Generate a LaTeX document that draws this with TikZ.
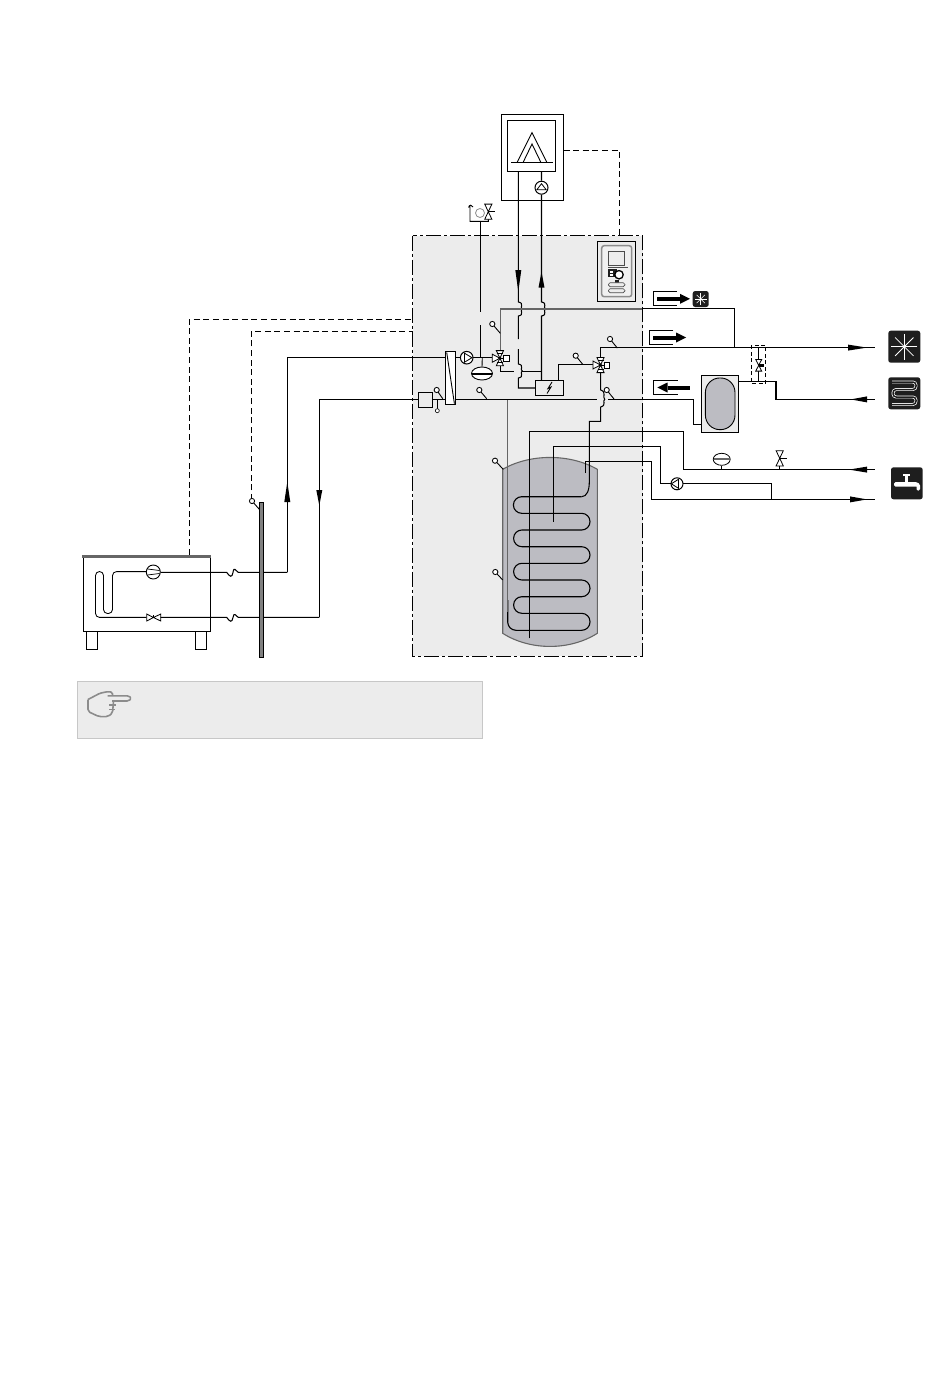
\documentclass[tikz,border=0pt]{standalone}
\usetikzlibrary{shapes.geometric,calc}
\definecolor{panelgray}{HTML}{ECECEC}
\definecolor{tankgray}{HTML}{BCBCC2}
\definecolor{iconblack}{HTML}{1E1E1E}
\definecolor{handgray}{HTML}{8C8C8C}
\definecolor{pipegray}{HTML}{666666}
\tikzset{
  pipe/.style={draw=black,line width=1.05pt,line join=miter},
  gpipe/.style={draw=pipegray,line width=1.2pt},
  signal/.style={draw=black,line width=0.9pt,dash pattern=on 6pt off 3.6pt},
  thin part/.style={draw=black,line width=0.9pt},
  symb/.style={draw=black,line width=0.8pt,fill=white},
  roundpart/.style={circle,draw=black,line width=1pt,fill=panelgray,inner sep=0pt},
  head/.style={fill=black,draw=none},
  signbox/.style={draw=black,line width=0.8pt},
  ico/.style={fill=iconblack,draw=none,rounded corners=2.5pt},
  icoline/.style={draw=white,line width=0.8pt},
}
\newcommand{\bmp}[2]{-- (#1,#2-7) .. controls (#1+6.5,#2-6) and (#1+1,#2-1) .. (#1+4,#2) .. controls (#1+1,#2+1) and (#1+6.5,#2+6) .. (#1,#2+7)}
\newcommand{\vvalve}[2]{\path[symb] (#1,#2) -- (#1-3.6,#2-7.6) -- (#1+3.6,#2-7.6) -- cycle; \path[symb] (#1,#2) -- (#1-3.6,#2+7.6) -- (#1+3.6,#2+7.6) -- cycle;}
\newcommand{\threeway}[2]{\draw[thin part] (#1,#2) -- (#1+5,#2);
  \path[symb] (#1+3.6,#2-3) rectangle (#1+9,#2+3.2);
  \vvalve{#1}{#2}
  \path[symb] (#1,#2) -- (#1-7.6,#2-4) -- (#1-7.6,#2+4) -- cycle;
  \fill[black] (#1,#2) circle[radius=1.7];
  \draw[line width=0.7pt] (#1-3,#2-4.6) -- (#1+3,#2-4.6) (#1-3,#2+4.6) -- (#1+3,#2+4.6);}
\newcommand{\sensor}[4]{\draw[thin part] (#1,#2) -- (#3,#4); \draw[draw=black,line width=0.85pt,fill=white] (#1,#2) circle[radius=2.6];}
\newcommand{\dnhead}[3]{\fill[head] (#1-3,#2) -- (#1+3,#2) -- (#1,#3) -- cycle;}
\newcommand{\hhead}[3]{\fill[head] (#1,#3-3) -- (#1,#3+3) -- (#2,#3) -- cycle;}
\begin{document}
\begin{tikzpicture}[x=1pt,y=-1pt]
\useasboundingbox[fill=white] (0,0) rectangle (950,1378);

% panel
\node[fill=panelgray,minimum width=229.6pt,minimum height=420.5pt,inner sep=0pt,anchor=north west] (panel) at (412.7,235.7) {};

% tank
\path[fill=tankgray,draw=pipegray,line width=1.1pt] (502.7,469.3) .. controls (530,453.5) and (570,453.5) .. (597.3,469.3) -- (597.3,633.3) .. controls (570,650.8) and (530,650.8) .. (502.7,633.3) -- cycle;

% expansion vessel
\node[draw=black,line width=0.9pt,fill=panelgray,inner sep=0pt,minimum width=37.4pt,minimum height=57pt] (vessel) at (720,403.8) {};
\node[draw=black,line width=0.9pt,fill=tankgray,rounded corners=14.5pt,inner sep=0pt,minimum width=29.6pt,minimum height=51.7pt] (vesselin) at (720.2,403.8) {};

% boiler
\node[draw=black,line width=1pt,fill=white,inner sep=0pt,minimum width=62pt,minimum height=86.5pt] (boiler) at (532.5,157.7) {};
\node[draw=black,line width=1pt,fill=white,inner sep=0pt,minimum width=48pt,minimum height=51pt] (burner) at (531.5,146) {};
\draw[thin part] (511,162.4) -- (552.7,162.4);
\draw[thin part] (517.3,162) -- (532,132.7) -- (546.7,162);
\draw[thin part] (523.3,162) -- (532,144) -- (540.7,162);

% signal lines
\draw[signal] (563.5,150.4) -- (619.5,150.4) -- (619.5,235.5);
\draw[signal] (189.3,555) -- (189.3,319.4) -- (412.7,319.4);
\draw[signal] (251,500) -- (251,331.4) -- (412.7,331.4);

% panel border
\draw[line width=0.9pt,dash pattern=on 15pt off 3pt on 3pt off 3pt] (412.7,235.7) rectangle (642.3,656.2);

% safety group
\node[circle,draw=handgray,line width=0.8pt,fill=white,inner sep=0pt,minimum size=9pt] (safecirc) at (480,213) {};
\draw[thin part] (468.5,207.5) .. controls (469,204.5) and (472.5,204.5) .. (473,207) (470,206) -- (470,221.3) -- (488.3,221.3) -- (488.3,216);
\vvalve{488.3}{211.7}
\draw[thin part] (488.3,211.7) -- (495,211.7);
\coordinate (safe) at (480.3,221.3);
\draw[pipe] (safe) -- (480.3,311.7) (480.3,325) -- (480.3,357.5);

% boiler pipes
\node[roundpart,fill=white,minimum size=13pt] (bpump) at (541.5,187.7) {};
\path[symb] (541.5,183.7) -- (536.8,189.8) -- (546.2,189.8) -- cycle;
\draw[pipe] (518.3,171.5) -- (518.3,302) \bmp{518.3}{309} -- (518.3,339) (518.3,349) -- (518.3,364) \bmp{518.3}{371} -- (518.3,388) -- (535.3,388);
\draw[pipe] (541.5,171.5) -- (bpump.north) (bpump.south) -- (541.5,302) \bmp{541.5}{309} -- (541.5,380.3);
\dnhead{518.3}{270}{291.7}
\dnhead{541.5}{287.7}{271.7}

% distribution pipes
\draw[gpipe] (500.3,350) -- (500.3,309) -- (642.3,309);
\draw[pipe] (642,308.6) -- (734.3,308.6) -- (734.3,347.6);
\draw[pipe] (600.7,357) -- (600.7,347.6) -- (875,347.6);
\draw[pipe] (500.3,366) -- (500.3,371.4) -- (514,371.4) (522,371.4) -- (541.5,371.4);
\hhead{848}{867}{347.6}

% heater
\node[draw=black,line width=1pt,fill=panelgray,inner sep=0pt,minimum width=28.4pt,minimum height=15pt] (heater) at (549.5,387.8) {};
\draw[line width=0.9pt] (552,382) -- (548,388.5) -- (551,387) -- (547,393.5);
\draw[pipe] (558.3,380.3) -- (558.3,364.7) -- (593,364.7);
\draw[pipe] (600.7,373) -- (600.7,390) .. controls (607,392) and (602,397) .. (604.7,399.3) .. controls (602,401) and (607,405) .. (600.7,407) -- (600.7,421.4) -- (589.3,421.4) -- (589.3,482) .. controls (589.3,490) and (587,496.7) .. (581.7,496.7);

% main pipes
\draw[pipe] (319.3,617.4) -- (319.3,399.4) -- (418.3,399.4);
\draw[pipe] (432.7,399.4) -- (445.7,399.4);
\draw[pipe] (455.3,399.4) -- (597,399.4) (608,399.4) -- (693.3,399.4) -- (693.3,424.4) -- (701.3,424.4);
\draw[pipe] (287.3,572.4) -- (287.3,357.4) -- (445.7,357.4);
\draw[pipe] (455.3,357.4) -- (460.4,357.4);
\draw[pipe] (473,357.4) -- (492,357.4);
\dnhead{287.3}{502}{482}
\dnhead{319.3}{490}{505.5}

% coil and tank pipes
\draw[line width=1.1pt,rounded corners=8.3pt] (581.7,496.7) -- (513.4,496.7) -- (513.4,513.3) -- (590,513.3) -- (590,530) -- (513.6,530) -- (513.6,546.7) -- (590,546.7) -- (590,563.3) -- (513.6,563.3) -- (513.6,580) -- (590,580) -- (590,596.7) -- (513.6,596.7) -- (513.6,613.3) -- (590,613.3) -- (590,630.3) -- (507.7,630.3) -- (507.7,600);
\draw[gpipe] (507.5,400) -- (507.5,612);
\draw[pipe] (529.3,638.3) -- (529.3,431.5) -- (683.7,431.5) -- (683.7,469.6) -- (875,469.6);
\draw[pipe] (553.3,521.7) -- (553.3,446.6) -- (660.3,446.6) -- (660.3,483.6) -- (671,483.6);
\draw[pipe] (683,483.6) -- (771.7,483.6) -- (771.7,499.4);
\draw[pipe] (585.3,473) -- (585.3,461.6) -- (651.3,461.6) -- (651.3,499.4) -- (875,499.4);
\hhead{867}{849}{469.6}
\hhead{850}{867}{499.4}
\node[roundpart,fill=white,minimum size=12pt] (hwpump) at (677,483.8) {};
\path[symb] (671.3,483.8) -- (678.5,479.3) -- (678.5,488.3) -- cycle;

% right side
\draw[pipe] (738.7,381.4) -- (776,381.4) -- (776,399.4) -- (875,399.4);
\hhead{867}{850.7}{399.4}
\draw[thin part] (758.7,347.8) -- (758.7,381.3);
\draw[line width=0.8pt,dash pattern=on 4pt off 2.5pt] (751.3,345.3) rectangle (765.7,383.3);
\path[symb] (758.7,365.3) -- (755.7,359.5) -- (761.7,359.5) -- cycle;
\path[symb] (758.7,365.3) -- (755.7,371.1) -- (761.7,371.1) -- cycle;
\fill (758.7,364) rectangle (763.5,366.5);

% cold water membrane and valve
\node[draw=black,ellipse,line width=0.8pt,fill=white,inner sep=0pt,minimum width=17pt,minimum height=12pt] (coldmem) at (721.7,459.3) {};
\fill[pipegray] (714,458.3) rectangle (729.5,460.3);
\draw[thin part] (coldmem.south) -- (721.7,469.7);
\vvalve{779.7}{458.3}
\draw[thin part] (779.7,458.3) -- (786.5,458.3) (779.7,465.9) -- (779.7,469.7);

% loop pump, membrane, valves
\node[roundpart,fill=white,minimum size=12.6pt] (lpump) at (466.7,357.7) {};
\path[symb] (472,357.7) -- (464.5,353.2) -- (464.5,362.2) -- cycle;
\node[draw=black,ellipse,line width=0.9pt,fill=white,inner sep=0pt,minimum width=21pt,minimum height=13pt] (lmem) at (482,373.5) {};
\fill (472,372.6) rectangle (492,374.6);
\draw[thin part] (482.3,357.5) -- (lmem.north);
\threeway{499.9}{358.2}
\threeway{600.5}{365}

% exchanger
\node[draw=black,line width=1pt,fill=white,inner sep=0pt,minimum width=9.6pt,minimum height=52.6pt] (hx) at (450.5,378) {};
\draw[thin part] (446.7,352.4) -- (454.4,403.6);

% filter
\node[draw=black,line width=0.9pt,fill=panelgray,inner sep=0pt,minimum width=14.4pt,minimum height=15pt] (filter) at (425.5,399.8) {};
\draw[thin part] (437.3,399.3) -- (437.3,408.7);
\node[circle,draw=black,line width=0.6pt,fill=white,inner sep=0pt,minimum size=4pt] (drain) at (437.3,410.7) {};

% sensors
\sensor{436.7}{390}{442.7}{398.7}
\sensor{479.3}{390}{486.7}{398.7}
\sensor{492.3}{324}{500.3}{333.3}
\sensor{610}{339}{617.3}{348}
\sensor{575.7}{355.7}{582.7}{364.3}
\sensor{606.7}{390}{614}{399}
\sensor{495}{460.7}{503.3}{469.3}
\sensor{495.3}{572}{502.7}{580}

% controller
\node[draw=black,line width=1pt,fill=panelgray,inner sep=0pt,minimum width=38.4pt,minimum height=60pt] (ctrl) at (616.5,271.3) {};
\draw[handgray,line width=1.5pt,fill=white!94!black,rounded corners=2.5pt] (601.7,245.7) rectangle (631.7,296.7);
\draw[draw=black!70,line width=0.7pt,fill=panelgray] (608.3,251.7) rectangle (624.3,265.7);
\draw[draw=black!70,line width=0.6pt] (608.3,267) -- (627.5,267);
\fill[iconblack] (608.3,269.3) rectangle (616.7,277.3);
\fill[white] (610,271) rectangle (613,272.6);
\fill[white] (610,274) rectangle (613,275.6);
\draw[line width=1.3pt,fill=white] (619,274.7) circle[radius=4.2];
\fill[iconblack] (615,280) rectangle (618.5,283);
\draw[draw=black!70,line width=0.6pt,fill=panelgray,rounded corners=1.8pt] (608.3,282.7) rectangle (625,286.7);
\draw[draw=black!70,line width=0.6pt,fill=panelgray,rounded corners=1.8pt] (608.3,288.7) rectangle (625,292.7);

% mode signs
\draw[signbox] (677,291) -- (653.3,291) -- (653.3,305.3) -- (677,305.3);
\fill (657.3,296.8) rectangle (680,300.8);
\fill (680,293.8) -- (690,298.8) -- (680,303.8) -- cycle;
\fill[iconblack,rounded corners=2.5pt] (692.7,291) rectangle (708.7,307);
\foreach \a in {0,45,90,135} {\draw[icoline,line width=0.6pt] ($(700.7,299)+(\a:5.8)$) -- ($(700.7,299)+(\a+180:5.8)$);}
\draw[signbox] (673.3,330.3) -- (649.3,330.3) -- (649.3,344.7) -- (673.3,344.7);
\fill (653.3,335.5) rectangle (676,339.5);
\fill (676,332.5) -- (686,337.5) -- (676,342.5) -- cycle;
\draw[signbox] (677.7,380.3) -- (653.3,380.3) -- (653.3,394.7) -- (677.7,394.7);
\fill (667.5,385.5) rectangle (690,389.5);
\fill (667.5,382.5) -- (657.3,387.5) -- (667.5,392.5) -- cycle;

% heat-source unit
\node[draw=black,line width=1pt,fill=white,inner sep=0pt,minimum width=126.7pt,minimum height=75pt] (unit) at (146.7,594.2) {};
\fill[pipegray] (82,555.3) rectangle (211,558.3);
\draw[line width=0.9pt] (86.3,631.7) rectangle (97.7,649.3);
\draw[line width=0.9pt] (195.3,631.7) rectangle (206.7,649.3);
\node[circle,draw=black,line width=0.9pt,fill=white,inner sep=0pt,minimum size=14pt] (comp) at (153.3,572) {};
\draw[line width=0.7pt] (147.5,569) -- (159.5,570.5) (147.5,575) -- (159.5,573.5);
\draw[line width=0.85pt,rounded corners=4pt] (comp.west |- 0,571.6) -- (112.5,571.6) -- (112.5,613.5) -- (103.5,613.5) -- (103.5,571.5) -- (95.5,571.5) -- (95.5,617.4) -- (146.7,617.4);
\path[symb] (153.5,617.5) -- (146.7,614) -- (146.7,621) -- cycle;
\path[symb] (153.5,617.5) -- (160.7,614) -- (160.7,621) -- cycle;
\draw[thin part] (153.5,617.5) -- (153.5,614.5);
\draw[pipe] (comp.east |- 0,572.4) -- (226.7,572.4) .. controls (230,577) and (232,578) .. (233,572.4) .. controls (234,566) and (236,571) .. (238.3,572.4) -- (287.3,572.4);
\draw[pipe] (160.7,617.4) -- (226.7,617.4) .. controls (230,622) and (232,623) .. (233,617.4) .. controls (234,611.5) and (236,616) .. (238.3,617.4) -- (319.3,617.4);

% wall
\node[draw=black,line width=0.7pt,fill=black!50,inner sep=0pt,minimum width=3.4pt,minimum height=155.6pt,anchor=north west] (wall) at (259.2,501.7) {};
\sensor{252}{501}{259.3}{509.3}

% note box
\node[draw=black!22,line width=0.9pt,fill=panelgray,inner sep=0pt,minimum width=405.2pt,minimum height=57.6pt,anchor=north west] (note) at (77.1,680.8) {};
\draw[handgray,line width=1.6pt,line join=round,rounded corners=1.5pt] (88,699.5) -- (100,693.2) -- (108,691.6) -- (112.5,692.3) -- (112.5,695.8) (107.5,695.8) -- (128.5,695.8) -- (131.5,698.3) -- (128.5,701) -- (112,701);
\draw[handgray,line width=1.6pt,line join=round,rounded corners=2pt] (88,699.5) -- (88,711.5) -- (99,716.6) -- (108,716.6) -- (112.5,713) -- (113.5,701.5);
\draw[handgray,line width=1.3pt] (109,705) -- (116,705) (109,709.5) -- (115,709.5);

% destination icons
\fill[ico] (888.3,330.7) rectangle (920.3,362.7);
\foreach \a in {0,45,90,135} {\draw[icoline] ($(904.3,346.7)+(\a:13)$) -- ($(904.3,346.7)+(\a+180:13)$);}
\fill[ico] (888.3,377.3) rectangle (920.3,409.3);
\draw[draw=white,line width=2.9pt,rounded corners=3.2pt] (892,382) -- (916,382) -- (916,389.5) -- (893,389.5) -- (893,397) -- (916,397) -- (916,404.5) -- (892,404.5);
\draw[draw=iconblack,line width=1.5pt,rounded corners=3.2pt] (891,382) -- (916,382) -- (916,389.5) -- (893,389.5) -- (893,397) -- (916,397) -- (916,404.5) -- (891,404.5);
\fill[ico] (891,467.3) rectangle (922.7,499.3);
\fill[white] (903,474) rectangle (909.5,475.5);
\fill[white] (905,475.5) rectangle (907.5,482);
\fill[white,rounded corners=1.5pt] (894,482) -- (914,482) .. controls (918,482) and (920,484) .. (920,487) -- (920,490.7) -- (916.5,490.7) -- (916.5,488) .. controls (916.5,487) and (915.5,486.7) .. (914,486.7) -- (894,486.7) -- cycle;
\end{tikzpicture}
\end{document}
